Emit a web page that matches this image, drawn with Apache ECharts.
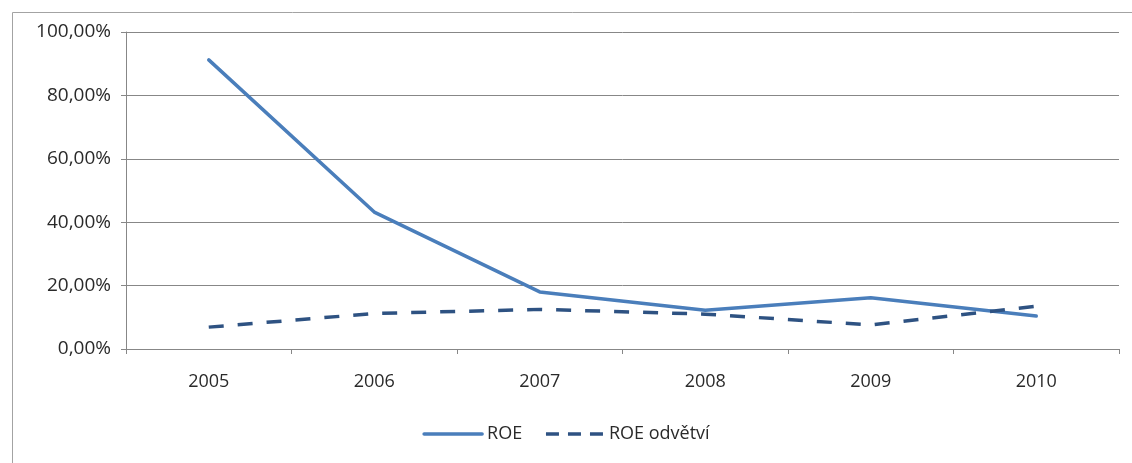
<!DOCTYPE html>
<html>
<head>
<meta charset="utf-8">
<script src="https://cdn.jsdelivr.net/npm/echarts@6/dist/echarts.min.js"></script>
<style>
  html, body { margin: 0; padding: 0; background: #fff; }
  #chart { width: 1132px; height: 463px; }
</style>
</head>
<body>
<div id="chart"></div>
<script>
// Years on the category axis
const years = ['2005', '2006', '2007', '2008', '2009', '2010'];
// Return on equity of the company, in percent
const roe = [91.2, 43.2, 18.0, 12.2, 16.2, 10.4];
// Return on equity of the industry (odvětví), in percent
const roeIndustry = [6.9, 11.2, 12.5, 11.0, 7.6, 13.5];
// Value axis ticks
const yTicks = [0, 20, 40, 60, 80, 100];

const fontFamily = '"Open Sans", "Noto Sans", sans-serif';
const textColor = '#2a2a2a';
const axisGray = '#878787';

const chart = echarts.init(document.getElementById('chart'), null, { renderer: 'canvas' });

chart.setOption({
  animation: false,
  backgroundColor: '#ffffff',
  graphic: [{
    type: 'rect',
    left: 10,
    top: 10,
    shape: { width: 1200, height: 520 },
    style: { fill: 'none', stroke: '#a3a3a3', lineWidth: 1 },
    silent: true,
    z: -10
  }],
  grid: { left: 126, right: 13, top: 32, bottom: 114, containLabel: false },
  legend: {
    bottom: 15,
    left: 'center',
    itemWidth: 58,
    itemHeight: 10,
    itemGap: 22,
    itemStyle: { opacity: 0 },
    textStyle: { fontFamily, fontSize: 18, color: textColor, padding: [0, 0, 0, 0] },
    data: [
      { name: 'ROE', lineStyle: { width: 3.5 } },
      { name: 'ROE odvětví', lineStyle: { type: [13, 9], width: 3.5 } }
    ]
  },
  xAxis: {
    type: 'category',
    data: years,
    boundaryGap: true,
    axisLine: { show: true, lineStyle: { color: axisGray, width: 1 } },
    axisTick: { show: true, length: 5, alignWithLabel: false, lineStyle: { color: axisGray } },
    axisLabel: { margin: 24, fontFamily, fontSize: 18, color: textColor },
    splitLine: { show: false }
  },
  yAxis: {
    type: 'value',
    min: yTicks[0],
    max: yTicks[yTicks.length - 1],
    interval: yTicks[1] - yTicks[0],
    axisLine: { show: true, lineStyle: { color: axisGray, width: 1 } },
    axisTick: { show: true, length: 5, lineStyle: { color: axisGray } },
    axisLabel: {
      margin: 15,
      fontFamily,
      fontSize: 19,
      color: textColor,
      formatter: v => v.toFixed(2).replace('.', ',') + '%'
    },
    splitLine: { show: true, lineStyle: { color: axisGray, width: 1 } }
  },
  series: [
    {
      name: 'ROE',
      type: 'line',
      data: roe,
      symbol: 'none',
      smooth: false,
      lineStyle: { color: '#4a7ebb', width: 3.5, cap: 'round', join: 'round' },
      itemStyle: { color: '#4a7ebb' },
      z: 3
    },
    {
      name: 'ROE odvětví',
      type: 'line',
      data: roeIndustry,
      symbol: 'none',
      smooth: false,
      lineStyle: { color: '#2e5282', width: 3.5, type: [15, 14], cap: 'butt' },
      itemStyle: { color: '#2e5282' },
      z: 4
    }
  ]
});
</script>
</body>
</html>
